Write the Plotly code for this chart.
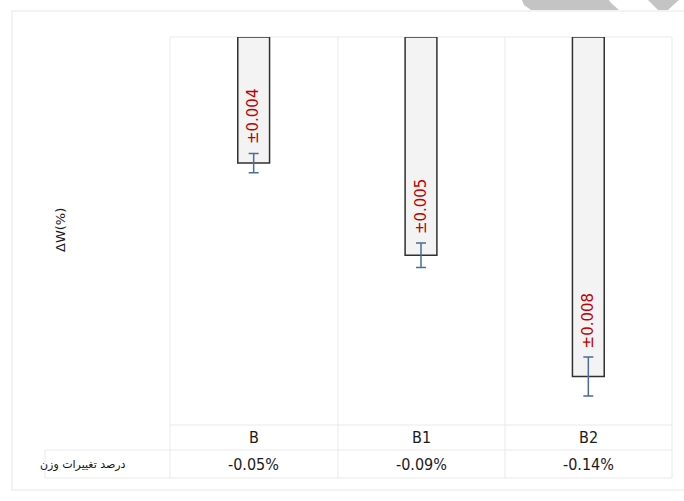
import plotly.graph_objects as go

# Weight change per sample (%), with the ± spread written on each bar
categories = ["B", "B1", "B2"]
weight_change = [-0.052, -0.090, -0.140]
error_margin = [0.004, 0.005, 0.008]
row_header = "درصد تغییرات وزن"
axis_title = "ΔW(%)"

W, H = 684, 501
ML, MR, MT, MB = 170, 12, 37, 76


def px(x):
    """pixel x -> paper x"""
    return (x - ML) / (W - ML - MR)


def py(y):
    """pixel y (from top) -> paper y"""
    return (H - MB - y) / (H - MT - MB)


GRID = "#e9e9e9"
NARROW = "Liberation Sans Narrow, DejaVu Sans Condensed, Arial Narrow, sans-serif"

fig = go.Figure(
    go.Bar(
        x=categories,
        y=weight_change,
        width=0.19,
        marker=dict(color="#f3f3f3", line=dict(color="#303030", width=1.5)),
        error_y=dict(
            type="data",
            array=error_margin,
            visible=True,
            color="#4a6b9c",
            thickness=1.5,
            width=5,
        ),
        hoverinfo="x+y",
    )
)

shapes = []


def line(x0, y0, x1, y1, color=GRID, width=1):
    shapes.append(dict(type="line", xref="paper", yref="paper",
                       x0=px(x0), y0=py(y0), x1=px(x1), y1=py(y1),
                       line=dict(color=color, width=width), layer="below"))


# outer chart frame
shapes.append(dict(type="rect", xref="paper", yref="paper",
                   x0=px(12), y0=py(490), x1=px(700), y1=py(11),
                   line=dict(color="#f0f0f0", width=1.5), fillcolor="rgba(0,0,0,0)",
                   layer="below"))

# column separators through the plot and the data table
for xv in (170, 338, 505, 672):
    line(xv, 37, xv, 478)
line(45, 450, 45, 478)
# horizontal table rules
line(170, 37, 672, 37)
line(170, 425, 672, 425)
line(45, 450, 672, 450)
line(45, 478, 672, 478)


# grey marks at the top edge of the page
def path(points):
    d = "M {},{}".format(px(points[0][0]), py(points[0][1]))
    for p in points[1:]:
        d += " L {},{}".format(px(p[0]), py(p[1]))
    return d + " Z"


shapes.append(dict(type="path", xref="paper", yref="paper",
                   path=path([(521, -2), (524, 5), (531, 10), (619, 10), (612, 4), (607, -2)]),
                   fillcolor="#c4c4c4", line=dict(width=0), layer="below"))
shapes.append(dict(type="path", xref="paper", yref="paper",
                   path=path([(646, -2), (658, 10), (668, 10), (681, -2)]),
                   fillcolor="#c4c4c4", line=dict(width=0), layer="below"))

annotations = []
for cat, v, e in zip(categories, weight_change, error_margin):
    # ± label written along the bar
    annotations.append(dict(
        x=cat, y=v + e, xref="x", yref="y", text="±{:.3f}".format(e),
        textangle=-90, showarrow=False, xanchor="center", yanchor="bottom",
        yshift=7, font=dict(family="DejaVu Sans", size=15, color="#c00000")))
    # data table: category row and value row
    annotations.append(dict(
        x=cat, y=py(437.5), xref="x", yref="paper", text=cat, showarrow=False,
        xanchor="center", yanchor="middle",
        font=dict(family=NARROW, size=16, color="#1a1a1a")))
    annotations.append(dict(
        x=cat, y=py(464), xref="x", yref="paper", text="{:.2f}%".format(v),
        showarrow=False, xanchor="center", yanchor="middle",
        font=dict(family=NARROW, size=16, color="#1a1a1a")))

annotations.append(dict(
    x=px(83), y=py(464), xref="paper", yref="paper", text=row_header,
    showarrow=False, xanchor="center", yanchor="middle",
    font=dict(family="DejaVu Sans", size=11, color="#111111")))
annotations.append(dict(
    x=px(60), y=py(230), xref="paper", yref="paper", text=axis_title,
    textangle=-90, showarrow=False, xanchor="center", yanchor="middle",
    font=dict(family="DejaVu Sans", size=13, color="#1a1a1a")))

fig.update_layout(
    width=W, height=H,
    margin=dict(l=ML, r=MR, t=MT, b=MB, pad=0),
    paper_bgcolor="white", plot_bgcolor="white",
    showlegend=False,
    shapes=shapes,
    annotations=annotations,
    xaxis=dict(range=[-0.5, 2.5], showticklabels=False, showgrid=False,
               zeroline=False, showline=False, ticks=""),
    yaxis=dict(range=[-0.16, 0], showticklabels=False, showgrid=False,
               zeroline=False, showline=False, ticks=""),
)

fig.write_html("out.html")
